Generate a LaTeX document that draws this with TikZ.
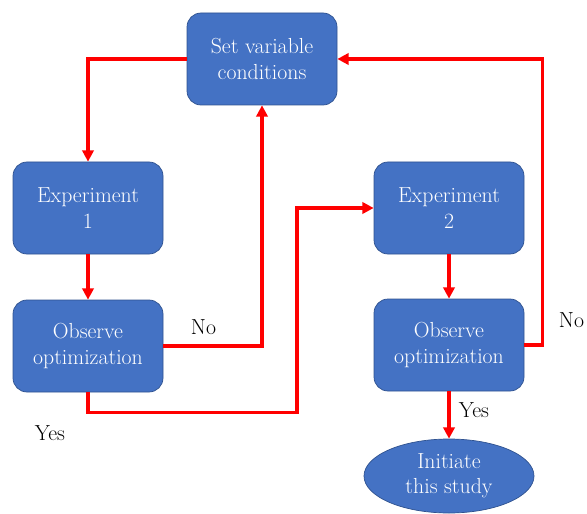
\documentclass[tikz,border=0pt]{standalone}
\usepackage{tikz}
\usetikzlibrary{positioning, arrows.meta, shapes.geometric}

\definecolor{boxblue}{HTML}{4472C4}
\definecolor{boxedge}{HTML}{2F528F}

\begin{document}
\begin{tikzpicture}[
  sbox/.style={rounded corners=0.35cm, minimum width=3.75cm, minimum height=2.3cm,
               align=center, fill=boxblue, draw=boxedge, line width=0.5pt,
               text=white, font=\fontsize{15.5}{18}\selectfont, inner sep=3pt},
  ebox/.style={ellipse, minimum width=4.25cm, minimum height=1.85cm,
               align=center, fill=boxblue, draw=boxedge, line width=0.5pt,
               text=white, font=\fontsize{15.5}{18}\selectfont, inner sep=0pt},
  link/.style={red, line width=2.2pt, -{Triangle[length=8pt, width=8pt]}},
  lbl/.style={font=\fontsize{15.5}{18}\selectfont, anchor=west},
]
  \useasboundingbox (0,0) rectangle (14.675,-12.825);

  % ═══ Boxes ═══════════════════════════════════════════════════
  \node[sbox] (set)  at (6.55, -1.475)   {Set variable\\conditions};
  \node[sbox] (exp1) at (2.2, -5.2)      {Experiment\\1};
  \node[sbox] (obs1) at (2.2, -8.65)     {Observe\\optimization};
  \node[sbox] (exp2) at (11.225, -5.2)   {Experiment\\2};
  \node[sbox] (obs2) at (11.225, -8.625) {Observe\\optimization};
  \node[ebox] (init) at (11.225, -11.9)  {Initiate\\this study};

  % ═══ Links ═══════════════════════════════════════════════════
  \draw[link] (set.west) -| (exp1.north);
  \draw[link] (exp1.south) -- (obs1.north);
  % No: back to conditions
  \draw[link] (obs1.east) -| (set.south);
  % Yes: on to experiment 2
  \draw[link] (obs1.south) -- ++(0,-0.5) -| (7.425, -5.2) -- (exp2.west);
  \draw[link] (exp2.south) -- (obs2.north);
  \draw[link] (obs2.east) -- ++(0.45,0) |- (set.east);
  \draw[link] (obs2.south) -- (init.north);

  % ═══ Labels ══════════════════════════════════════════════════
  \node[lbl] (no1)  at (4.65, -8.175)  {No};
  \node[lbl] (yes1) at (0.75, -10.825) {Yes};
  \node[lbl] (no2)  at (13.85, -8.0)   {No};
  \node[lbl] (yes2) at (11.35, -10.25) {Yes};
\end{tikzpicture}
\end{document}
